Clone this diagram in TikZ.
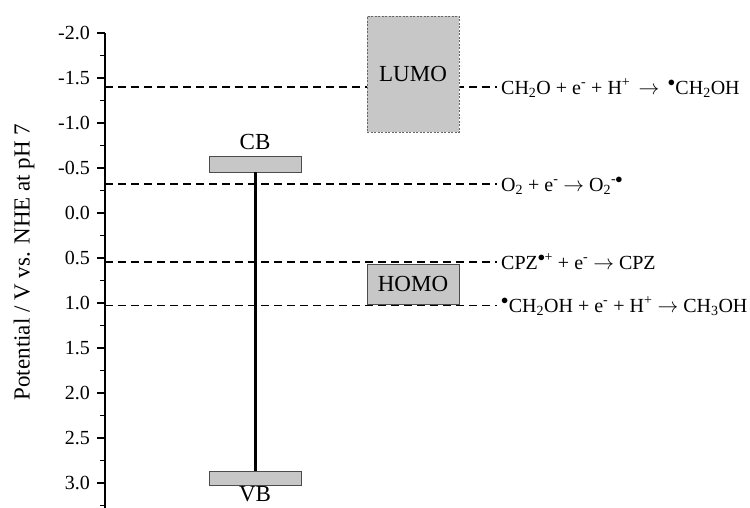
\documentclass[tikz,border=0pt]{standalone}
\usepackage{fontspec}
\setmainfont{Liberation Serif}
\usetikzlibrary{positioning}

\begin{document}
\begin{tikzpicture}[x=1pt,y=-1pt,
    every node/.style={font=\fontsize{20}{24}\selectfont, inner sep=0pt},
    eq/.style={anchor=base west, font=\fontsize{20}{24}\selectfont},
    big/.style={font=\fontsize{23}{27}\selectfont},
    level/.style={dash pattern=on 8pt off 5pt, line width=1.4pt},
    band/.style={draw=black!70, fill=black!22, line width=0.8pt, minimum width=92pt, big}]
    \useasboundingbox (0,0) rectangle (750,507);
    % axis
    \draw[line width=1.6pt] (105,33) -- (105,512);
    \foreach \v [count=\i from 0] in {-2.0,-1.5,-1.0,-0.5,0.0,0.5,1.0,1.5,2.0,2.5,3.0} {
        \draw[line width=1.2pt] (97,33+45*\i) -- (105,33+45*\i);
        \node[anchor=east] (tick\i) at (90,33+45*\i) {\v};
    }
    \foreach \i in {0,...,10}
        \draw[line width=1.2pt] (100,55.5+45*\i) -- (105,55.5+45*\i);
    \node[rotate=90, big] (ylabel) at (24,262) {Potential / V vs. NHE at pH 7};
    % redox levels
    \coordinate (axA) at (105,87);
    \coordinate (axB) at (105,184);
    \coordinate (axC) at (105,262);
    \coordinate (axD) at (105,305);
    \node[eq] (eqA) at (501,94) {CH\textsubscript{2}O + e\textsuperscript{-} + H\textsuperscript{+}\, $\rightarrow$\, $^{\bullet}$CH\textsubscript{2}OH};
    \node[eq] (eqB) at (501,191) {O\textsubscript{2} + e\textsuperscript{-} $\rightarrow$ O\textsubscript{2}\textsuperscript{-}\kern-1pt$^{\bullet}$};
    \node[eq] (eqC) at (501,269) {CPZ$^{\bullet}$\kern-1pt\textsuperscript{+} + e\textsuperscript{-} $\rightarrow$ CPZ};
    \node[eq] (eqD) at (501,312) {$^{\bullet}$CH\textsubscript{2}OH + e\textsuperscript{-} + H\textsuperscript{+} $\rightarrow$ CH\textsubscript{3}OH};
    \draw[level, shorten >=4pt] (axA) -- (axA -| eqA.west);
    \draw[level, shorten >=4pt] (axB) -- (axB -| eqB.west);
    \draw[level, shorten >=4pt] (axC) -- (axC -| eqC.west);
    \draw[level, line width=0.9pt, shorten >=4pt] (axD) -- (axD -| eqD.west);
    % dye levels
    \node[band, draw=black!60, dash pattern=on 2pt off 1.5pt, minimum height=116pt] (lumo) at (413,74) {LUMO};
    \node[band, minimum height=40pt] (homo) at (413,284) {HOMO};
    % semiconductor bands
    \node[band, minimum height=16pt] (cb) at (255,164) {};
    \node[band, minimum height=14pt] (vb) at (255,478) {};
    \node[above=6pt of cb, big] (cblabel) {CB};
    \node[below=1pt of vb, big] (vblabel) {VB};
    \draw[line width=3pt] (cb.south) -- (vb.north);
\end{tikzpicture}
\end{document}
